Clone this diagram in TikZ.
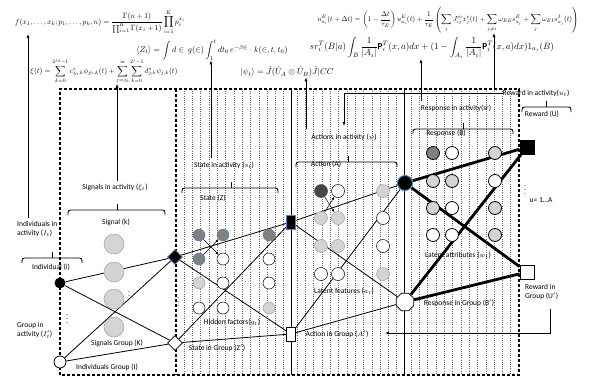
\documentclass[tikz,border=0pt]{standalone}
\usepackage{amsmath,amssymb}
\usepackage{graphicx}
\usepackage{fontspec}
\setmainfont{Carlito}
\usetikzlibrary{shapes.geometric,arrows.meta}
\pgfdeclarelayer{gridlayer}
\pgfdeclarelayer{edgelayer}
\pgfsetlayers{gridlayer,edgelayer,main}
\definecolor{lgray}{HTML}{D4D4D4}
\definecolor{dgray}{HTML}{808080}
\definecolor{kgray}{HTML}{474747}
\definecolor{bblue}{HTML}{4F81BD}
\definecolor{cgray}{HTML}{A0A0A0}
\tikzset{
  lbl/.style={font=\fontsize{7.5}{9}\selectfont, inner sep=0pt},
  frm/.style={inner sep=0pt},
  arr/.style={-{Latex[length=4pt,width=3pt]}, line width=0.6pt},
  sarr/.style={-{Latex[length=3pt,width=2.5pt]}, line width=0.5pt},
  thinedge/.style={line width=0.8pt},
  thickedge/.style={line width=2.8pt},
  heavydash/.style={line width=1.1pt, dash pattern=on 3pt off 2pt},
  griddot/.style={line width=0.4pt, black!60, dash pattern=on 0.6pt off 1.6pt},
  solidsep/.style={line width=0.8pt},
  pc/.style={circle, line width=0.5pt, minimum size=12pt, inner sep=0pt},
  rc/.style={circle, line width=0.8pt, minimum size=13pt, inner sep=0pt},
  sigc/.style={circle, draw=cgray, fill=lgray, line width=0.5pt, minimum size=20pt, inner sep=0pt},
  bracestyle/.style={line width=0.9pt, rounded corners=2.5pt}
}
\newcommand\mybrace[4]{%
  \draw[bracestyle] (#1,#3+5) -- (#1,#3) -- (#2,#3) -- (#2,#3+5);
  \draw[line width=0.9pt] (#4,#3) -- (#4,#3-6);}
\begin{document}
\begin{tikzpicture}[x=1pt,y=-1pt]
\useasboundingbox (0,0) rectangle (589,376);

% ---------- formulas ----------
\node[frm] (fF) at (100,22) {\resizebox{170pt}{!}{$\displaystyle f(x_1,\dots,x_k;p_1,\dots,p_k,n)=\frac{\Gamma(n+1)}{\prod\nolimits_{i=1}^{K}\Gamma(x_i+1)}\prod_{i=1}^{K}p_i^{x_i}$}};
\node[frm] (fZ) at (212,50) {\resizebox{151pt}{!}{$\displaystyle \langle Z_t\rangle=\int d\in\, g(\in)\int_1^t dt_0\,e^{-\beta\in}\cdot k(\in,t,t_0)$}};
\node[frm] (fXi) at (104,71) {\resizebox{147pt}{!}{$\displaystyle \xi(t)=\sum_{k=0}^{2^{j_0}-1}c^*_{j_0,k}\phi_{j_0,k}(t)+\sum_{j=j_0}^{\infty}\sum_{k=0}^{2^j-1}d^*_{j,k}\psi_{j,k}(t)$}};
\node[frm] (fPsi) at (287,72) {\resizebox{93pt}{!}{$\left|\psi_t\right\rangle=\hat{J}(\hat{U}_A\otimes\hat{U}_B)\hat{J}|CC$}};
\node[frm] (fU) at (448,20) {\resizebox{261pt}{!}{$\displaystyle u^E_{a_i}(t+\Delta t)=\left(1-\frac{\Delta t}{\tau_E}\right)u^E_{a_i}(t)+\frac{1}{\tau_E}\left(\sum_j J^{ei}_{ij}x^e_j(t)+\sum_{j\neq i}\omega_{EE}s^E_{a_j}+\sum_j\omega_{EI}s^I_{a_j}(t)\right)$}};
\node[frm] (fSr) at (432,48) {\resizebox{244pt}{!}{$\displaystyle sr_i^T(B|a)\int_B\frac{1}{|A_i|}\mathbf{P}_i^T(x,a)dx+(1-\int_{A_i}\frac{1}{|A_i|}\mathbf{P}_i^T(x,a)dx)1_{a_i}(B)$}};

% ---------- frame and grid ----------
\begin{pgfonlayer}{gridlayer}
\foreach \i in {0,...,12} {
  \draw[griddot] ({184+8.3*\i},89) -- ({184+8.3*\i},375);
  \draw[griddot] ({297+8.3*\i},89) -- ({297+8.3*\i},375);
  \draw[griddot] ({411+8.3*\i},89) -- ({411+8.3*\i},375);
}
\draw[heavydash] (60,375) -- (60,89) -- (519,89) -- (519,375) -- cycle;
\draw[heavydash] (176,89) -- (176,375);
\draw[solidsep] (291,89) -- (291,375);
\draw[solidsep] (404,89) -- (404,375);
\end{pgfonlayer}

% ---------- braces ----------
\mybrace{22}{82}{258}{52}
\mybrace{68}{165}{210}{117}
\mybrace{182}{278}{188}{231}
\mybrace{296}{397}{162}{348}
\mybrace{413}{513}{129}{463}
\mybrace{522}{571}{107}{546}

% ---------- labels ----------
\node[lbl, anchor=north west, align=left] (lIndiv) at (17,221) {Individuals in\\activity ($I_t$)};
\node[lbl] (lIndivB) at (51,267) {Individual (i)};
\node[lbl, anchor=north west, align=left] (lGrp) at (17,322) {Group in\\activity ($I'_t$)};
\node[lbl] (lIG) at (107,367) {Individuals Group (I)};
\node[lbl] (lSigAct) at (115,187) {Signals in activity ($\xi_t$)};
\node[lbl] (lSig) at (116,222) {Signal (k)};
\node[lbl] (lSigG) at (117,343) {Signals Group (K)};
\node[lbl] (lStAct) at (224,165) {State in activity ($s_t$)};
\node[lbl] (lSt) at (213,198) {State (Z)};
\node[lbl] (lHid) at (232,322) {Hidden factors($g_t$)};
\node[lbl] (lStG) at (217,348) {State in Group (Z$'$)};
\node[lbl] (lActAct) at (344,137) {Actions in activity ($\psi$)};
\node[lbl] (lAct) at (326,164) {Action (A)};
\node[lbl] (lLat) at (344,291) {Latent features ($a_t$)};
\node[lbl] (lActG) at (337,334) {Action in Group ($A'$)};
\node[lbl] (lRespAct) at (456,108) {Response in activity(sr)};
\node[lbl] (lResp) at (446,133) {Response (B)};
\node[lbl] (lLatAttr) at (458,255) {Latent attributes ($w_t$)};
\node[lbl] (lRespG) at (459,303) {Response in Group (B$'$)};
\node[lbl] (lRewAct) at (536,93) {Reward in activity($u_t$)};
\node[lbl] (lRew) at (542,114) {Reward (U)};
\node[lbl] (lUA) at (541,200) {u= 1\dots A};
\node[lbl, anchor=north west, align=left] (lRewG) at (525,284) {Reward in\\Group (U$'$)};
\node[lbl] (d1) at (67,316) {$\vdots$};
\node[lbl] (d2) at (129,293) {$\vdots$};
\node[lbl] (d3) at (178,299) {$\vdots$};
\node[lbl] (d4) at (525,187) {$\vdots$};
\node[lbl] (d5) at (246,282) {$\cdots$};
\node[lbl] (d6) at (473,234) {$\cdots$};

% ---------- label arrows ----------
\coordinate (aI) at (28,218);
\coordinate (aS) at (117,181);
\coordinate (aZ) at (211,158);
\coordinate (aP) at (306,129);
\coordinate (aR) at (421,101);
\coordinate (aU) at (494,88);
\coordinate (eA) at (344,126);
\coordinate (gA) at (550,309);
\coordinate (gB) at (385,333);
\draw[arr] (aI) -- (aI |- fF.south);
\draw[arr] (aS) -- (aS |- fXi.south);
\draw[arr] (aZ) -- (aZ |- fZ.south);
\draw[arr] (aP) -- (aP |- fPsi.south);
\draw[arr] (aR) -- (aR |- fSr.south);
\draw[arr] (aU) -- (aU |- fU.south);
\draw[arr] (lRewAct.west) -| (eA);
\draw[arr] (gA) |- (gB);

% ---------- signal circles ----------
\foreach \n/\y in {k1/244,k2/272,k3/299,k4/327} \node[sigc] (\n) at (114,\y) {};

% ---------- state circles ----------
\foreach \n/\x/\y/\f/\d in {
  s11/199/235/dgray/bblue, s12/223/235/dgray/bblue, s13/269/235/dgray/dgray,
  s21/199/259/dgray/bblue, s22/223/259/white/black, s23/269/259/white/black,
  s31/199/283/lgray/cgray, s32/223/283/white/black, s33/269/283/white/black,
  s41/199/308/white/black, s42/223/308/white/black, s43/269/308/lgray/cgray}
  \node[pc, fill=\f, draw=\d] (\n) at (\x,\y) {};
\draw[sarr] (s11) -- (s22);
\draw[sarr] (s21) -- (s12);

% ---------- action circles ----------
\foreach \n/\x/\y/\f/\d in {
  a11/321/191/kgray/kgray, a12/338/191/white/black, a13/383/191/lgray/cgray,
  a21/321/218/lgray/cgray, a22/338/218/lgray/cgray, a23/383/218/white/black,
  a31/321/246/lgray/cgray, a32/338/246/lgray/cgray, a33/383/246/white/black,
  a41/321/274/white/black, a42/338/274/white/black, a43/383/274/lgray/cgray}
  \node[pc, minimum size=13pt, fill=\f, draw=\d] (\n) at (\x,\y) {};
\draw[sarr] (a11) -- (a22);
\draw[sarr] (a21) -- (a12);

% ---------- response circles ----------
\foreach \n/\x/\y/\f in {
  r11/433/153/dgray, r12/452/153/white, r13/495/153/lgray,
  r21/433/181/lgray, r22/452/181/lgray, r23/495/181/white,
  r31/433/208/lgray, r32/452/208/white, r33/495/208/lgray,
  r41/433/235/white, r42/452/235/white, r43/495/235/lgray}
  \node[rc, fill=\f, draw=black] (\n) at (\x,\y) {};

% ---------- key nodes ----------
\node[circle, fill=black, minimum size=11pt, inner sep=0pt] (indiv) at (60,283) {};
\node[circle, fill=white, draw=black, line width=0.8pt, minimum size=12pt, inner sep=0pt] (grp) at (60,362) {};
\node[diamond, fill=black, draw=bblue, line width=0.6pt, minimum size=15pt, inner sep=0pt] (sdia) at (175,257) {};
\node[diamond, fill=white, draw=black, line width=0.8pt, minimum size=15pt, inner sep=0pt] (wdia) at (175,343) {};
\node[rectangle, fill=black, draw=bblue, line width=0.6pt, minimum width=9pt, minimum height=14pt, inner sep=0pt] (sq) at (291,222) {};
\node[rectangle, fill=white, draw=black, line width=0.8pt, minimum width=9pt, minimum height=14pt, inner sep=0pt] (wrect) at (291,334) {};
\node[circle, fill=black, draw=bblue, line width=1pt, minimum size=15pt, inner sep=0pt] (bcirc) at (405,183) {};
\node[regular polygon, regular polygon sides=8, fill=white, draw=black, line width=0.8pt, minimum size=19pt, inner sep=0pt] (woct) at (405,302) {};
\node[rectangle, fill=black, minimum size=15pt, inner sep=0pt] (rew) at (527,147) {};
\node[rectangle, fill=white, draw=black, line width=0.8pt, minimum size=14pt, inner sep=0pt] (wsq) at (527,272) {};

% ---------- edges ----------
\begin{pgfonlayer}{edgelayer}
\draw[thinedge] (indiv) -- (sdia);
\draw[thinedge] (indiv) -- (wdia);
\draw[thinedge] (grp) -- (sdia);
\draw[thinedge] (grp) -- (wdia);
\draw[thinedge] (sdia) -- (sq);
\draw[thinedge] (sdia) -- (wrect);
\draw[thinedge] (wdia) -- (sq);
\draw[thinedge] (wdia) -- (wrect);
\draw[thinedge] (sq) -- (bcirc);
\draw[thinedge] (sq) -- (woct);
\draw[thinedge] (wrect) -- (bcirc);
\draw[thinedge] (wrect) -- (woct);
\draw[thickedge] (bcirc) -- (rew);
\draw[thickedge] (bcirc) -- (wsq);
\draw[thickedge] (woct) -- (rew);
\draw[thickedge] (woct) -- (wsq);
\end{pgfonlayer}
\end{tikzpicture}
\end{document}
